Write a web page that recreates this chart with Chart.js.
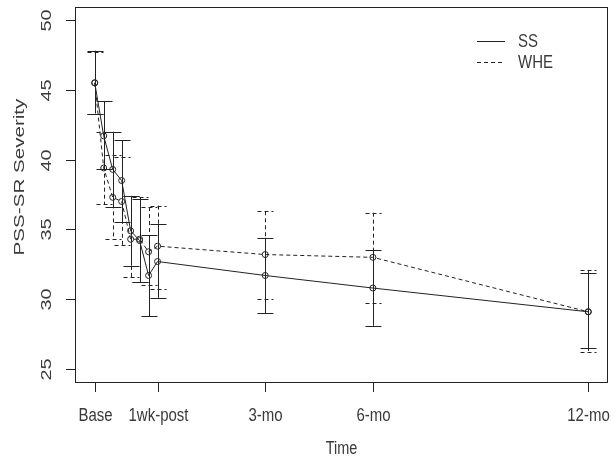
<!DOCTYPE html>
<html>
<head>
<meta charset="utf-8">
<script src="https://cdn.jsdelivr.net/npm/chart.js@4"></script>
<style>
  body { margin: 0; background: #fff; }
  canvas { display: block; }
</style>
</head>
<body>
<canvas id="myChart" width="615" height="462"></canvas>
<script>
// time positions (weeks from baseline), 1wk-post = 7
const times = [0, 1, 2, 3, 4, 5, 6, 7, 19, 31, 55];
const tickPositions = [0, 7, 19, 31, 55];
const tickLabels = ["Base", "1wk-post", "3-mo", "6-mo", "12-mo"];
const yTicks = [25, 30, 35, 40, 45, 50];

const ssMean = [45.5, 41.7, 39.3, 38.5, 34.9, 34.2, 31.7, 32.7, 31.7, 30.8, 29.1];
const ssUpper = [47.8, 44.2, 42.0, 41.4, 37.4, 37.2, 34.6, 35.4, 34.4, 33.5, 31.9];
const ssLower = [43.3, 39.3, 36.6, 35.5, 32.4, 31.2, 28.8, 30.1, 29.0, 28.1, 26.5];

const wheMean = [45.5, 39.4, 37.3, 37.0, 34.3, 34.3, 33.4, 33.8, 33.2, 33.0, 29.1];
const wheUpper = [47.7, 42.0, 40.3, 40.2, 37.4, 37.3, 36.6, 36.7, 36.3, 36.2, 32.1];
const wheLower = [43.3, 36.8, 34.3, 33.9, 31.6, 31.2, 31.0, 30.7, 30.0, 29.7, 26.2];

const ink = "#222";
const dash = [4, 3];
const FONT = '"Liberation Sans", Arial, sans-serif';
// text in the picture is stretched vertically
const YSTRETCH = 1.22;
const ROT_STRETCH = 1.42;

function toPoints(means) {
  return times.map((t, i) => ({ x: t, y: means[i] }));
}

function stretchedText(ctx, str, x, y, opts) {
  ctx.save();
  ctx.translate(x, y);
  if (opts.rotate) {
    ctx.rotate(-Math.PI / 2);
    ctx.scale(ROT_STRETCH, 1);
  } else {
    ctx.scale(1, YSTRETCH);
  }
  ctx.font = opts.size + "px " + FONT;
  ctx.fillStyle = "#3a3a3a";
  ctx.textAlign = opts.align || "center";
  ctx.textBaseline = opts.baseline || "alphabetic";
  ctx.fillText(str, 0, 0);
  ctx.restore();
}

const errorBars = {
  id: "errorBars",
  afterDatasetsDraw(chart) {
    const { ctx, scales: { x, y } } = chart;
    const sets = [
      { lo: ssLower, hi: ssUpper, d: [] },
      { lo: wheLower, hi: wheUpper, d: dash },
    ];
    ctx.save();
    ctx.strokeStyle = ink;
    ctx.lineWidth = 1;
    sets.forEach(s => {
      ctx.setLineDash(s.d);
      times.forEach((t, i) => {
        const px = Math.round(x.getPixelForValue(t)) + 0.5;
        const top = y.getPixelForValue(s.hi[i]);
        const bot = y.getPixelForValue(s.lo[i]);
        ctx.beginPath();
        ctx.moveTo(px, top);
        ctx.lineTo(px, bot);
        ctx.moveTo(px - 8, Math.round(top) + 0.5);
        ctx.lineTo(px + 8, Math.round(top) + 0.5);
        ctx.moveTo(px - 8, Math.round(bot) + 0.5);
        ctx.lineTo(px + 8, Math.round(bot) + 0.5);
        ctx.stroke();
      });
    });
    ctx.restore();
  },
};

const frame = {
  id: "frame",
  afterDraw(chart) {
    const { ctx, chartArea: a, scales: { x, y } } = chart;
    ctx.save();
    ctx.strokeStyle = ink;
    ctx.lineWidth = 1;
    ctx.strokeRect(a.left + 0.5, a.top + 0.5, a.right - a.left - 1, a.bottom - a.top - 1);

    // x ticks + labels
    tickPositions.forEach((t, i) => {
      const px = Math.round(x.getPixelForValue(t)) + 0.5;
      ctx.beginPath();
      ctx.moveTo(px, a.bottom);
      ctx.lineTo(px, a.bottom + 9);
      ctx.stroke();
      stretchedText(ctx, tickLabels[i], px, 420.5, { size: 15 });
    });
    // y ticks + labels
    yTicks.forEach(v => {
      const py = Math.round(y.getPixelForValue(v)) + 0.5;
      ctx.beginPath();
      ctx.moveTo(a.left - 9, py);
      ctx.lineTo(a.left, py);
      ctx.stroke();
      stretchedText(ctx, String(v), 51, py, { size: 14, rotate: true });
    });
    // axis titles
    stretchedText(ctx, "Time", (a.left + a.right) / 2, 454, { size: 14.5 });
    stretchedText(ctx, "PSS-SR Severity", 24, 177, { size: 14.5, rotate: true });

    // legend
    ctx.beginPath();
    ctx.moveTo(477, 41.5);
    ctx.lineTo(505, 41.5);
    ctx.stroke();
    ctx.setLineDash(dash);
    ctx.beginPath();
    ctx.moveTo(477, 62.5);
    ctx.lineTo(505, 62.5);
    ctx.stroke();
    ctx.setLineDash([]);
    stretchedText(ctx, "SS", 518, 42, { size: 15, align: "left", baseline: "middle" });
    stretchedText(ctx, "WHE", 518, 63, { size: 15, align: "left", baseline: "middle" });
    ctx.restore();
  },
};

const ctx = document.getElementById("myChart").getContext("2d");
new Chart(ctx, {
  type: "scatter",
  data: {
    datasets: [
      {
        label: "SS",
        data: toPoints(ssMean),
        showLine: true,
        borderColor: ink,
        borderWidth: 1,
        pointRadius: 3,
        pointBorderWidth: 1,
        pointBackgroundColor: "rgba(0,0,0,0)",
        pointBorderColor: ink,
      },
      {
        label: "WHE",
        data: toPoints(wheMean),
        showLine: true,
        borderColor: ink,
        borderWidth: 1,
        borderDash: dash,
        pointRadius: 3,
        pointBorderWidth: 1,
        pointBackgroundColor: "rgba(0,0,0,0)",
        pointBorderColor: ink,
      },
    ],
  },
  options: {
    responsive: false,
    animation: false,
    layout: { padding: { left: 0, top: 7, right: 7, bottom: 0 } },
    plugins: { legend: { display: false }, tooltip: { enabled: false } },
    scales: {
      x: {
        type: "linear",
        min: -2.2,
        max: 57.2,
        grid: { display: false },
        border: { display: false },
        ticks: { display: false },
        afterFit: s => { s.height = 79; },
      },
      y: {
        min: 24,
        max: 50.93,
        grid: { display: false },
        border: { display: false },
        ticks: { display: false },
        afterFit: s => { s.width = 75; },
      },
    },
  },
  plugins: [errorBars, frame],
});
</script>
</body>
</html>
